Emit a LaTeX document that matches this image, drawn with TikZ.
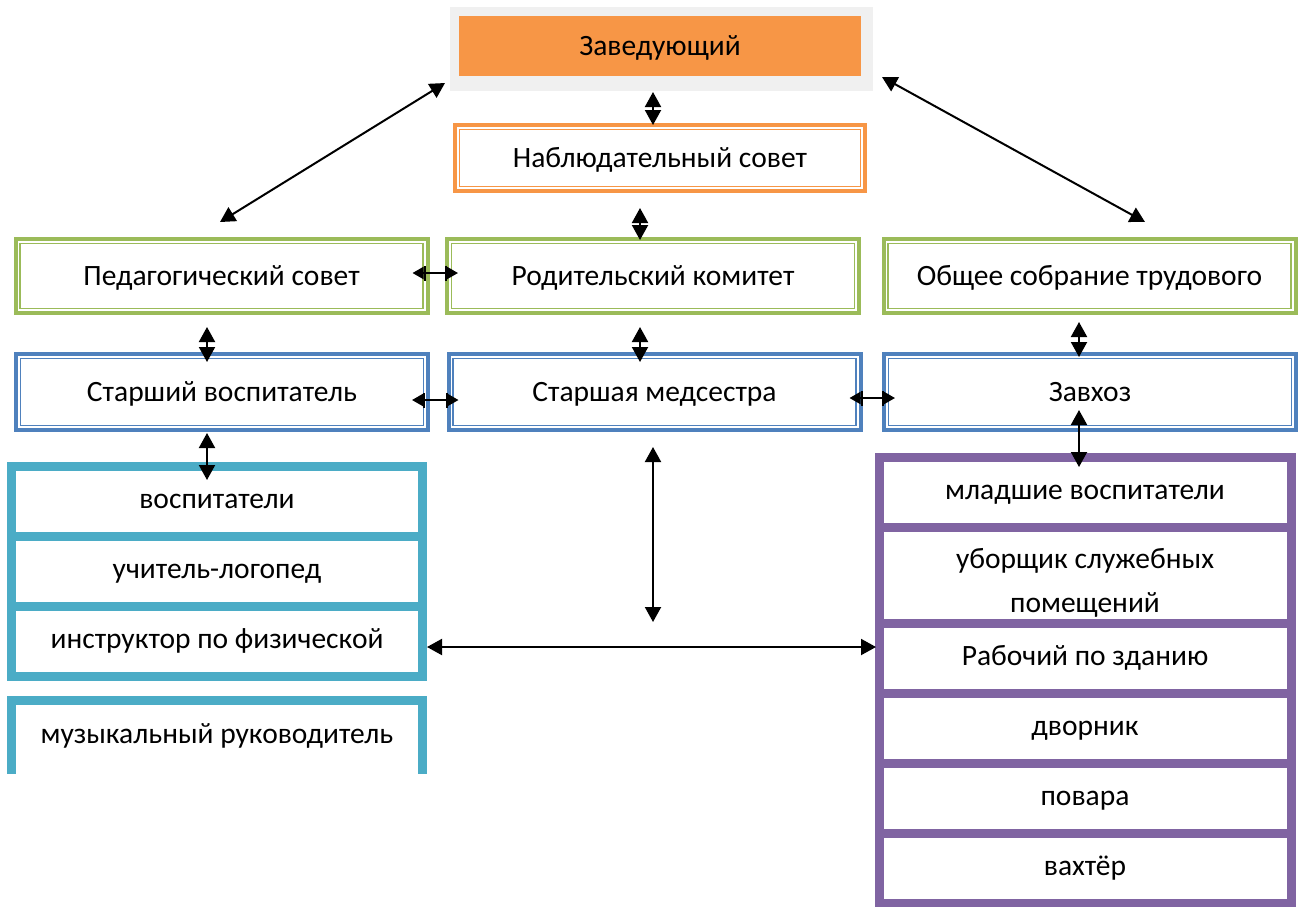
\documentclass[tikz,border=0pt]{standalone}
\usepackage{fontspec}
\setmainfont{Carlito}
\usepackage{tikz}
\usetikzlibrary{arrows.meta}
\usetikzlibrary{positioning}

\definecolor{headorange}{HTML}{F79646}
\definecolor{headgrey}{HTML}{F0F0F0}
\definecolor{boardgreen}{HTML}{9BBB59}
\definecolor{staffblue}{HTML}{4F81BD}
\definecolor{teachcyan}{HTML}{4BACC6}
\definecolor{servpurple}{HTML}{8064A2}

\tikzset{
  lvl/.style={draw=#1,line width=4pt,minimum width=412pt,minimum height=74pt,
    outer sep=0pt,inner sep=0pt,text height=23pt,text depth=4pt,
    path picture={\draw[#1,line width=1.5pt]
      ([shift={(4.5pt,-4.5pt)}]path picture bounding box.north west) rectangle
      ([shift={(-4.5pt,4.5pt)}]path picture bounding box.south east);}},
  cell/.style={draw=#1,line width=9pt,minimum width=412pt,minimum height=70pt,
    outer sep=0pt,inner sep=0pt,text height=20pt,text depth=7pt},
  twoway/.style={{Triangle[width=16pt,length=15pt]}-{Triangle[width=16pt,length=15pt]},line width=2pt},
  barway/.style={{Triangle[width=12pt,length=11pt] Bar[width=15pt]}-{Bar[width=15pt] Triangle[width=12pt,length=11pt]},line width=2pt}
}

\begin{document}
\begin{tikzpicture}[x=1pt,y=-1pt,font=\fontsize{29.5}{44}\selectfont]
  \path[use as bounding box,fill=white] (0,0) rectangle (1299,906);

  % head
  \node (headbg) at (661.5,49)[fill=headgrey,minimum width=423pt,minimum height=84pt,outer sep=0pt]{};
  \node (head) at (660,46)[fill=headorange,minimum width=402pt,minimum height=60pt,outer sep=0pt,text height=23pt,text depth=4pt]{Заведующий};
  \node (nab) at (660,158)[lvl=headorange,minimum width=410pt,minimum height=66pt]{Наблюдательный совет};

  % councils
  \node (ped) at (221.5,276)[lvl=boardgreen]{Педагогический совет};
  \node (rod) at (653,276)[lvl=boardgreen]{Родительский комитет};
  \node (obs) at (1089.5,276)[lvl=boardgreen]{Общее собрание трудового};

  % senior staff
  \node (star) at (222,392)[lvl=staffblue,minimum height=76pt]{Старший воспитатель};
  \node (med) at (654.5,392)[lvl=staffblue,minimum height=76pt]{Старшая медсестра};
  \node (zav) at (1090,392)[lvl=staffblue,minimum height=76pt]{Завхоз};

  % teachers
  \node (vosp) at (217,501.5)[cell=teachcyan,minimum width=411pt]{воспитатели};
  \node[below=0pt of vosp,cell=teachcyan,minimum width=411pt](uch){учитель-логопед};
  \node[below=0pt of uch,cell=teachcyan,minimum width=411pt](instr){инструктор по физической};
  \node (mus) at (217,737)[minimum width=411pt,minimum height=73pt,outer sep=0pt,inner sep=0pt,text height=20pt,text depth=7pt]{музыкальный руководитель};
  \draw[teachcyan,line width=9pt](mus.south west)--(mus.north west)--(mus.north east)--(mus.south east);

  % service staff
  \node (mlad) at (1085,492.5)[cell=servpurple]{младшие воспитатели};
  \node[below=0pt of mlad,cell=servpurple,minimum height=96pt,align=center,text height=,text depth=](ubor){\rule{0pt}{34pt}уборщик служебных\\помещений};
  \node[below=0pt of ubor,cell=servpurple](rab){Рабочий по зданию};
  \node[below=0pt of rab,cell=servpurple](dvor){дворник};
  \node[below=0pt of dvor,cell=servpurple](pov){повара};
  \node[below=0pt of pov,cell=servpurple](vakh){вахтёр};

  \coordinate (medend) at (653,622);

  \draw[twoway]([shift={(-5pt,8pt)}]headbg.south west)--([shift={(-1.5pt,17pt)}]ped.north);
  \draw[twoway]([shift={(9pt,14pt)}]headbg.south east)--([shift={(55.5pt,17pt)}]obs.north);
  \draw[twoway]([shift={(-8.5pt,-1pt)}]headbg.south)--([xshift=-7pt]nab.north);
  \draw[twoway]([shift={(-20pt,-17pt)}]nab.south)--([shift={(-13pt,-1pt)}]rod.north);
  \draw[twoway]([shift={(-13pt,-14pt)}]rod.south)--([shift={(-14.5pt,-8pt)}]med.north);
  \draw[twoway]([shift={(-14.5pt,-14pt)}]ped.south)--([shift={(-15pt,-8pt)}]star.north);
  \draw[twoway]([shift={(-10.5pt,-9pt)}]obs.south)--([shift={(-11pt,-3pt)}]zav.north);
  \draw[twoway]([shift={(-15pt,-3pt)}]star.south)--([shift={(-10pt,-13.5pt)}]vosp.north);
  \draw[twoway]([shift={(-11pt,20pt)}]zav.south)--([shift={(-6pt,-9.5pt)}]mlad.north);
  \draw[twoway]([shift={(-1.5pt,-17pt)}]med.south)--(medend);
  \draw[twoway]([shift={(4.5pt,-5.5pt)}]instr.east)--([shift={(-3pt,11.5pt)}]rab.west);

  \draw[barway]([shift={(-15pt,3pt)}]ped.east)--([shift={(11pt,3pt)}]rod.west);
  \draw[barway]([shift={(-16pt,-8pt)}]star.east)--([shift={(10pt,-8pt)}]med.west);
  \draw[barway]([shift={(-11pt,-6pt)}]med.east)--([shift={(11pt,-6pt)}]zav.west);
\end{tikzpicture}
\end{document}
